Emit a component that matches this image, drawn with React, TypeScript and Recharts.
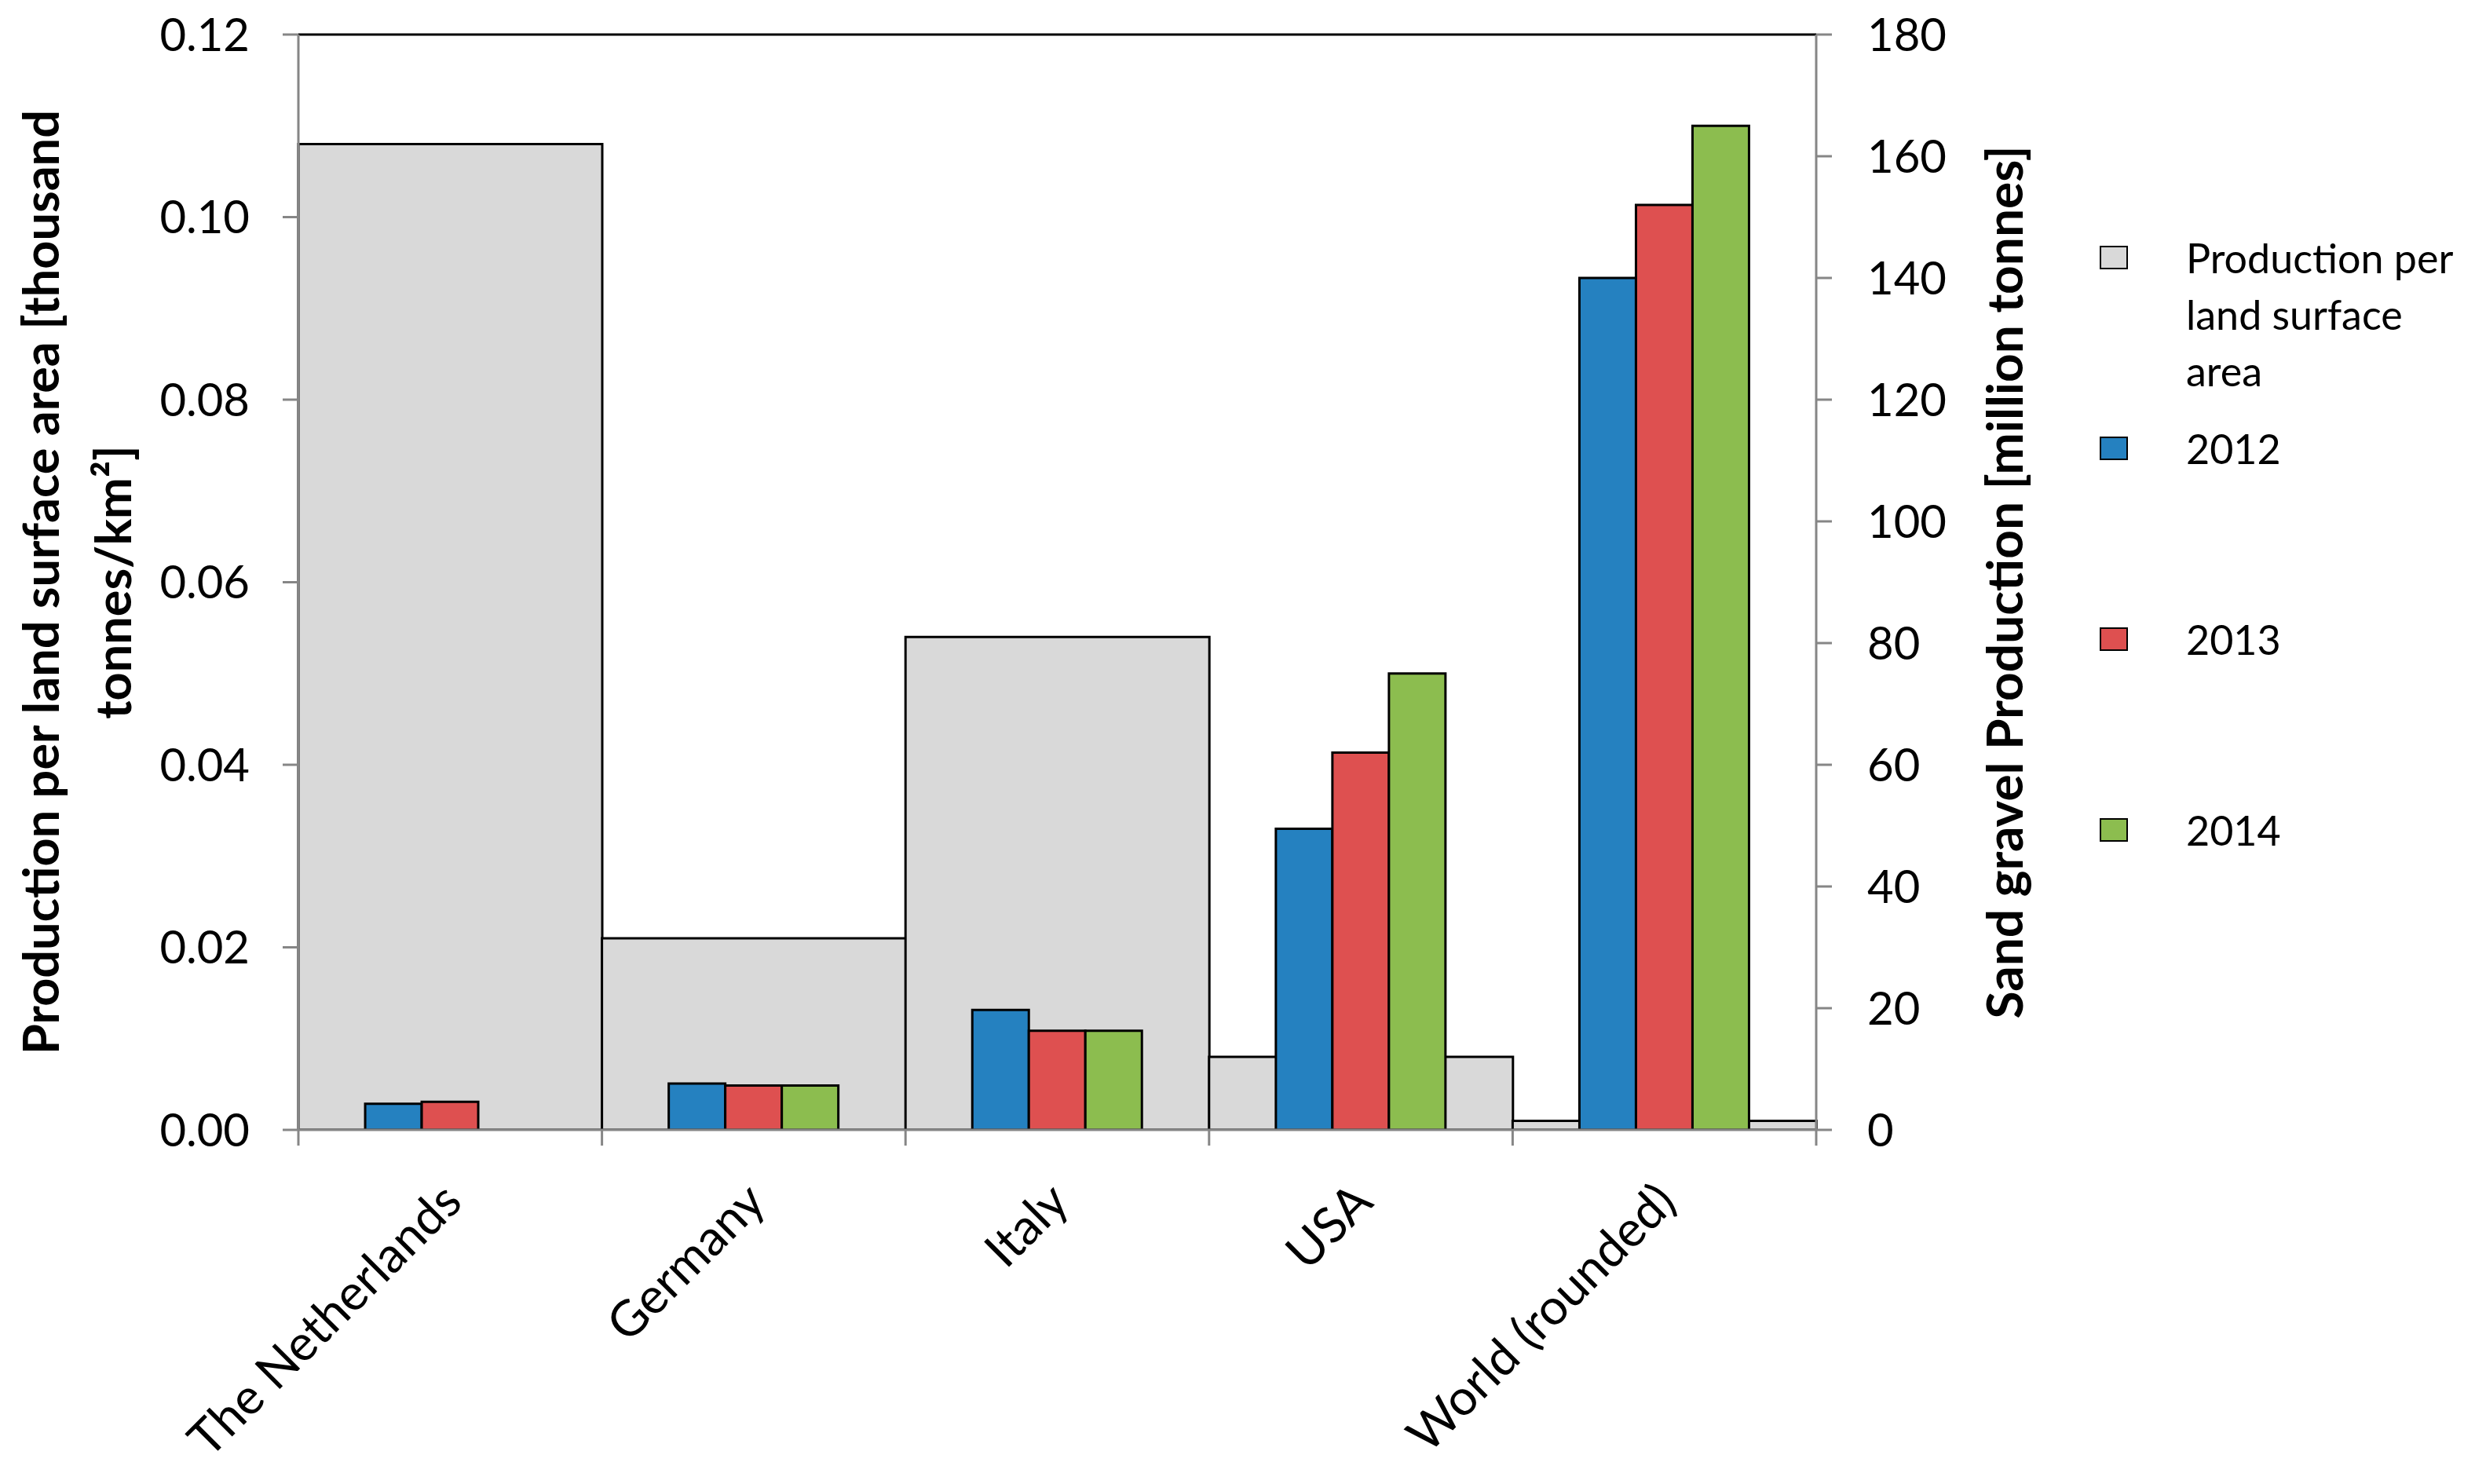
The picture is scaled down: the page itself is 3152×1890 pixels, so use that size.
import { BarChart, Bar, XAxis, YAxis, ReferenceLine } from 'recharts';

const countries = ['The Netherlands', 'Germany', 'Italy', 'USA', 'World (rounded)'];
// left axis: thousand tonnes / km2
const perArea = [0.108, 0.021, 0.054, 0.008, 0.001];
// right axis: million tonnes
const prod2012 = [4.3, 7.6, 19.7, 49.5, 140];
const prod2013 = [4.6, 7.3, 16.3, 62, 152];
const prod2014 = [null, 7.3, 16.3, 75, 165];
const leftTicks = [0, 0.02, 0.04, 0.06, 0.08, 0.1, 0.12];
const rightTicks = [0, 20, 40, 60, 80, 100, 120, 140, 160, 180];

const years = [
  { key: 'y2012', name: '2012', color: '#2581C0' },
  { key: 'y2013', name: '2013', color: '#DE5050' },
  { key: 'y2014', name: '2014', color: '#8CBD4F' },
];
const GRAY = '#D9D9D9';
const AXIS = '#868686';
const FONT = 'Lato, "Open Sans", sans-serif';

const data = countries.map((country, i) => ({
  country,
  perArea: perArea[i],
  y2012: prod2012[i],
  y2013: prod2013[i],
  y2014: prod2014[i],
}));

const W = 3144;
const H = 1870;
const margin = { top: 36, right: 539, bottom: 9, left: 0 };
const LEFT_W = 372;
const RIGHT_W = 300;
const X_H = 430;

function CategoryTick({ x, y, payload, index }: any) {
  const half = payload?.offset ?? 0;
  const axisY = y - 20;
  const last = index === countries.length - 1;
  const tx = x + 18;
  const ty = axisY + 95;
  return (
    <g>
      <line x1={x - half} x2={x - half} y1={axisY} y2={axisY + 20} stroke={AXIS} strokeWidth={3} />
      {last && <line x1={x + half} x2={x + half} y1={axisY} y2={axisY + 20} stroke={AXIS} strokeWidth={3} />}
      <text
        x={tx} y={ty} textAnchor="end" fill="#000"
        transform={`rotate(-45, ${tx}, ${ty})`}
        style={{ fontSize: 63, fontFamily: FONT }}
      >
        {payload.value}
      </text>
    </g>
  );
}

function LeftTitle({ viewBox }: any) {
  const cy = viewBox.y + viewBox.height / 2;
  const lines = [
    { x: 42, t: 'Production per land surface area [thousand' },
    { x: 134, t: 'tonnes/km²]' },
  ];
  return (
    <g>
      {lines.map((l) => (
        <text key={l.t} x={l.x} y={cy} textAnchor="middle" dominantBaseline="central"
          transform={`rotate(-90, ${l.x}, ${cy})`}
          style={{ fontSize: 63, fontWeight: 700, fontFamily: FONT }} fill="#000">
          {l.t}
        </text>
      ))}
    </g>
  );
}

function RightTitle({ viewBox }: any) {
  const cy = viewBox.y + viewBox.height / 2;
  const cx = 2543;
  return (
    <text x={cx} y={cy} textAnchor="middle" dominantBaseline="central"
      transform={`rotate(-90, ${cx}, ${cy})`}
      style={{ fontSize: 64, fontWeight: 700, fontFamily: FONT }} fill="#000">
      Sand gravel Production [million tonnes]
    </text>
  );
}

const legendItems = [
  { name: 'Production per land surface area', color: GRAY },
  ...years.map((y) => ({ name: y.name, color: y.color })),
];

function LegendBox() {
  return (
    <div style={{ position: 'absolute', left: 2666, top: 284, fontFamily: FONT, fontSize: 52 }}>
      {legendItems.map((it) => (
        <div key={it.name} style={{ height: 243, display: 'flex', alignItems: 'flex-start' }}>
          <div style={{
            width: 32, height: 26, marginTop: 21, background: it.color,
            border: '2px solid #000', flexShrink: 0,
          }} />
          <div style={{ marginLeft: 74, width: 370, lineHeight: '72px', color: '#000' }}>{it.name}</div>
        </div>
      ))}
    </div>
  );
}

const blankAxis = { tick: false as const, axisLine: false, tickLine: false };

export default function App() {
  return (
    <div style={{ position: 'relative', width: W, height: H, background: '#fff' }}>
      {/* back layer: gray bars that fill each category */}
      <div style={{ position: 'absolute', left: 0, top: 0 }}>
        <BarChart width={W} height={H} data={data} margin={margin} barCategoryGap={0} barGap={0}>
          <XAxis dataKey="country" height={X_H} {...blankAxis} />
          <YAxis yAxisId="left" width={LEFT_W} domain={[0, 0.12]} ticks={leftTicks} allowDataOverflow {...blankAxis} />
          <YAxis yAxisId="right" orientation="right" width={RIGHT_W} domain={[0, 180]} ticks={rightTicks} allowDataOverflow {...blankAxis} />
          <Bar yAxisId="left" dataKey="perArea" name="Production per land surface area"
            fill={GRAY} stroke="#000" strokeWidth={3} isAnimationActive={false} />
        </BarChart>
      </div>
      {/* front layer: yearly production and all axes */}
      <div style={{ position: 'absolute', left: 0, top: 0 }}>
        <BarChart width={W} height={H} data={data} margin={margin} barCategoryGap="22%" barGap={0}
          style={{ overflow: 'visible' }}>
          <XAxis dataKey="country" height={X_H} interval={0} tickSize={20} tickMargin={0}
            tickLine={false} axisLine={{ stroke: AXIS, strokeWidth: 3 }} tick={<CategoryTick />} />
          <YAxis yAxisId="left" width={LEFT_W} domain={[0, 0.12]} ticks={leftTicks} allowDataOverflow
            interval={0} tickFormatter={(v: number) => v.toFixed(2)} tickSize={20} tickMargin={42}
            axisLine={{ stroke: AXIS, strokeWidth: 3 }} tickLine={{ stroke: AXIS, strokeWidth: 3 }}
            tick={{ fill: '#000', fontSize: 58, fontFamily: FONT }}
            label={<LeftTitle />} />
          <YAxis yAxisId="right" orientation="right" width={RIGHT_W} domain={[0, 180]} ticks={rightTicks}
            allowDataOverflow interval={0} tickSize={20} tickMargin={45}
            axisLine={{ stroke: AXIS, strokeWidth: 3 }} tickLine={{ stroke: AXIS, strokeWidth: 3 }}
            tick={{ fill: '#000', fontSize: 58, fontFamily: FONT }}
            label={<RightTitle />} />
          <ReferenceLine yAxisId="left" y={0.12} stroke="#000" strokeWidth={3} />
          {years.map((y) => (
            <Bar key={y.key} yAxisId="right" dataKey={y.key} name={y.name} fill={y.color}
              stroke="#000" strokeWidth={3} isAnimationActive={false} />
          ))}
        </BarChart>
      </div>
      <LegendBox />
    </div>
  );
}
